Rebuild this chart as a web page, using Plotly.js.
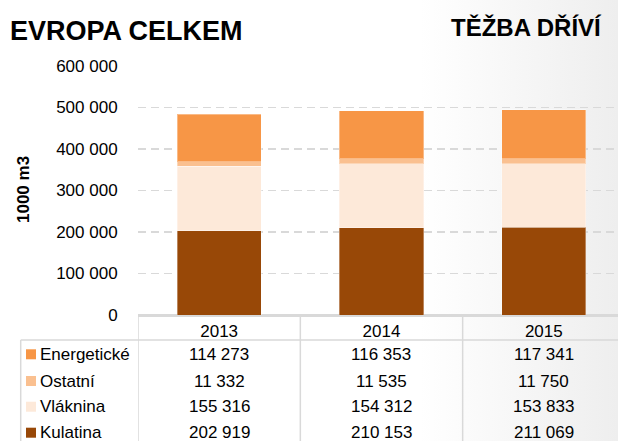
<!DOCTYPE html>
<html>
<head>
<meta charset="utf-8">
<script src="https://cdn.plot.ly/plotly-3.0.1.min.js"></script>
<style>
  html, body { margin: 0; padding: 0; }
  body { width: 618px; height: 441px; overflow: hidden;
         background: linear-gradient(to right, #ffffff 0%, #ffffff 68%, #eeeeee 100%); }
  #chart { width: 618px; height: 441px; }
</style>
</head>
<body>
<div id="chart"></div>
<script>
// ---- data ----
const years = ['2013', '2014', '2015'];
const kulatina    = [202919, 210153, 211069];
const vlaknina    = [155316, 154312, 153833];
const ostatni     = [11332, 11535, 11750];
const energeticke = [114273, 116353, 117341];
const seriesNames = ['Kulatina', 'Vláknina', 'Ostatní', 'Energetické'];
const titleLeft = 'EVROPA CELKEM';
const titleRight = 'TĚŽBA DŘÍVÍ';
const yTitle = '1000 m3';

// ---- styles ----
const colors = {
  'Kulatina': '#984807',
  'Vláknina': '#FDE9D9',
  'Ostatní': '#FAC090',
  'Energetické': '#F79646'
};
const FONT = 'Liberation Sans, Arial, sans-serif';
const W = 618, H = 441;
const M = {l: 138, r: 0, t: 66, b: 126};
const plotW = W - M.l - M.r, plotH = H - M.t - M.b;
const px = x => (x - M.l) / plotW;          // pixel x -> paper
const py = y => (H - M.b - y) / plotH;      // pixel y -> paper
const fmt = v => String(v).replace(/\B(?=(\d{3})+(?!\d))/g, ' ');

const valuesByName = {
  'Kulatina': kulatina, 'Vláknina': vlaknina, 'Ostatní': ostatni, 'Energetické': energeticke
};

const traces = seriesNames.map(n => ({
  type: 'bar', name: n, x: years, y: valuesByName[n], width: 0.518,
  marker: {color: colors[n], line: {color: 'rgba(255,255,255,0.35)', width: 1}},
  hoverinfo: 'skip'
}));

// table rows, top to bottom
const tableOrder = ['Energetické', 'Ostatní', 'Vláknina', 'Kulatina'];
const rowY = [354.3, 381, 406.7, 432.7];
const lineColor = '#d9d9d9';

const shapes = [];
const annotations = [];

// table grid
shapes.push({type: 'line', xref: 'paper', yref: 'paper', x0: px(20.7), x1: 1.05, y0: py(340), y1: py(340),
  line: {color: lineColor, width: 1.5}});
shapes.push({type: 'line', xref: 'paper', yref: 'paper', x0: px(20.7), x1: px(20.7), y0: py(340), y1: py(445),
  line: {color: lineColor, width: 1.5}});
[-0.5, 0.5, 1.5].forEach(b => {
  shapes.push({type: 'line', xref: 'x', yref: 'paper', x0: b, x1: b, y0: 0, y1: py(445),
    line: {color: lineColor, width: 1.5}});
});

tableOrder.forEach((n, r) => {
  const yc = rowY[r];
  shapes.push({type: 'rect', xref: 'paper', yref: 'paper', x0: px(26), x1: px(36), y0: py(yc + 5), y1: py(yc - 5),
    fillcolor: colors[n], line: {width: 0}});
  annotations.push({xref: 'paper', yref: 'paper', x: px(38), y: py(yc), xanchor: 'left', yanchor: 'middle',
    text: n, showarrow: false, font: {family: FONT, size: 17, color: '#000'}});
  valuesByName[n].forEach((v, i) => {
    annotations.push({xref: 'x', yref: 'paper', x: i, y: py(yc), xanchor: 'center', yanchor: 'middle',
      text: fmt(v), showarrow: false, font: {family: FONT, size: 17, color: '#000'}});
  });
});

// titles
annotations.push({xref: 'paper', yref: 'paper', x: px(8), y: py(31), xanchor: 'left', yanchor: 'middle',
  text: '<b>' + titleLeft + '</b>', showarrow: false, font: {family: FONT, size: 27, color: '#000'}});
annotations.push({xref: 'paper', yref: 'paper', x: px(604), y: py(27), xanchor: 'right', yanchor: 'middle',
  text: '<b>' + titleRight + '</b>', showarrow: false, font: {family: FONT, size: 24, color: '#000'}});
annotations.push({xref: 'paper', yref: 'paper', x: px(23), y: py(190), xanchor: 'center', yanchor: 'middle',
  text: '<b>' + yTitle + '</b>', textangle: -90, showarrow: false, font: {family: FONT, size: 17, color: '#000'}});

const layout = {
  width: W, height: H,
  margin: {l: M.l, r: M.r, t: M.t, b: M.b, pad: 0},
  paper_bgcolor: 'rgba(0,0,0,0)', plot_bgcolor: 'rgba(0,0,0,0)',
  barmode: 'stack', showlegend: false,
  separators: ', ',
  font: {family: FONT, color: '#000'},
  xaxis: {type: 'category', range: [-0.5, 2.457], fixedrange: true,
    tickfont: {family: FONT, size: 17, color: '#000'},
    ticks: '', ticklen: 0,
    showline: true, linecolor: lineColor, linewidth: 1.5, showgrid: false},
  yaxis: {range: [0, 600000], dtick: 100000, tickformat: ',d', fixedrange: true,
    tickfont: {family: FONT, size: 17, color: '#000'},
    ticks: 'outside', ticklen: 16, tickcolor: 'rgba(0,0,0,0)',
    showgrid: true, gridcolor: lineColor, gridwidth: 1.5, griddash: '8px,5px',
    zeroline: true, zerolinecolor: lineColor, zerolinewidth: 1.5, showline: false},
  shapes: shapes,
  annotations: annotations
};

Plotly.newPlot('chart', traces, layout, {displayModeBar: false, staticPlot: true});
</script>
</body>
</html>
